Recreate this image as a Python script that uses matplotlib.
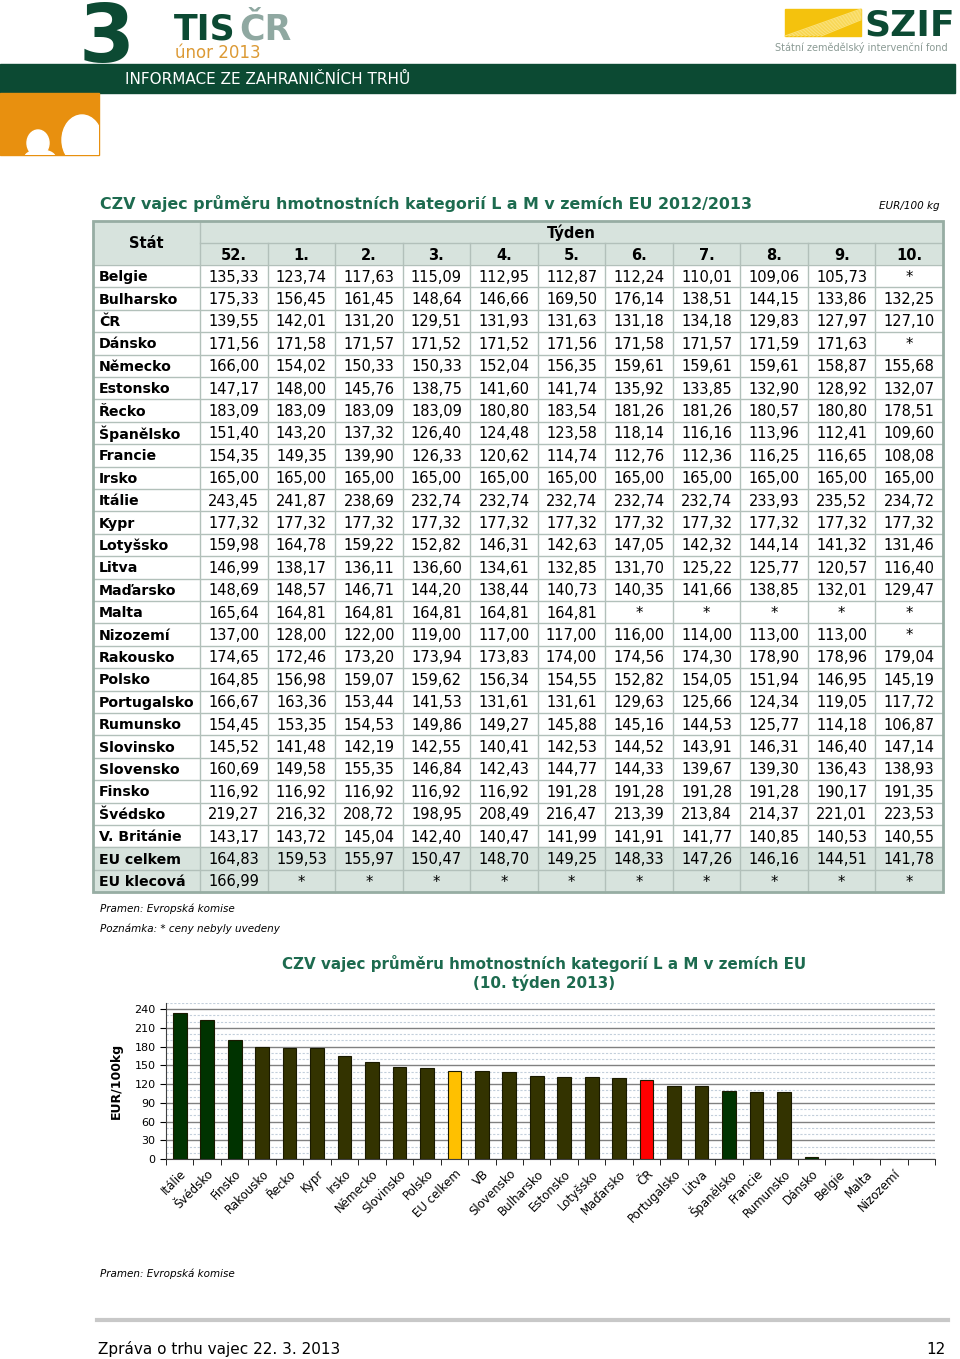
import matplotlib
matplotlib.use("Agg")
import matplotlib.pyplot as plt
from matplotlib.patches import Rectangle, Ellipse
import numpy as np

# table data (EUR/100 kg), None = not reported
weeks = ["52.", "1.", "2.", "3.", "4.", "5.", "6.", "7.", "8.", "9.", "10."]
table_countries = ["Belgie", "Bulharsko", "ČR", "Dánsko", "Německo", "Estonsko", "Řecko",
                   "Španělsko", "Francie", "Irsko", "Itálie", "Kypr", "Lotyšsko", "Litva",
                   "Maďarsko", "Malta", "Nizozemí", "Rakousko", "Polsko", "Portugalsko",
                   "Rumunsko", "Slovinsko", "Slovensko", "Finsko", "Švédsko", "V. Británie",
                   "EU celkem", "EU klecová"]
table_values = [
    [135.33, 123.74, 117.63, 115.09, 112.95, 112.87, 112.24, 110.01, 109.06, 105.73, None],
    [175.33, 156.45, 161.45, 148.64, 146.66, 169.50, 176.14, 138.51, 144.15, 133.86, 132.25],
    [139.55, 142.01, 131.20, 129.51, 131.93, 131.63, 131.18, 134.18, 129.83, 127.97, 127.10],
    [171.56, 171.58, 171.57, 171.52, 171.52, 171.56, 171.58, 171.57, 171.59, 171.63, None],
    [166.00, 154.02, 150.33, 150.33, 152.04, 156.35, 159.61, 159.61, 159.61, 158.87, 155.68],
    [147.17, 148.00, 145.76, 138.75, 141.60, 141.74, 135.92, 133.85, 132.90, 128.92, 132.07],
    [183.09, 183.09, 183.09, 183.09, 180.80, 183.54, 181.26, 181.26, 180.57, 180.80, 178.51],
    [151.40, 143.20, 137.32, 126.40, 124.48, 123.58, 118.14, 116.16, 113.96, 112.41, 109.60],
    [154.35, 149.35, 139.90, 126.33, 120.62, 114.74, 112.76, 112.36, 116.25, 116.65, 108.08],
    [165.00, 165.00, 165.00, 165.00, 165.00, 165.00, 165.00, 165.00, 165.00, 165.00, 165.00],
    [243.45, 241.87, 238.69, 232.74, 232.74, 232.74, 232.74, 232.74, 233.93, 235.52, 234.72],
    [177.32, 177.32, 177.32, 177.32, 177.32, 177.32, 177.32, 177.32, 177.32, 177.32, 177.32],
    [159.98, 164.78, 159.22, 152.82, 146.31, 142.63, 147.05, 142.32, 144.14, 141.32, 131.46],
    [146.99, 138.17, 136.11, 136.60, 134.61, 132.85, 131.70, 125.22, 125.77, 120.57, 116.40],
    [148.69, 148.57, 146.71, 144.20, 138.44, 140.73, 140.35, 141.66, 138.85, 132.01, 129.47],
    [165.64, 164.81, 164.81, 164.81, 164.81, 164.81, None, None, None, None, None],
    [137.00, 128.00, 122.00, 119.00, 117.00, 117.00, 116.00, 114.00, 113.00, 113.00, None],
    [174.65, 172.46, 173.20, 173.94, 173.83, 174.00, 174.56, 174.30, 178.90, 178.96, 179.04],
    [164.85, 156.98, 159.07, 159.62, 156.34, 154.55, 152.82, 154.05, 151.94, 146.95, 145.19],
    [166.67, 163.36, 153.44, 141.53, 131.61, 131.61, 129.63, 125.66, 124.34, 119.05, 117.72],
    [154.45, 153.35, 154.53, 149.86, 149.27, 145.88, 145.16, 144.53, 125.77, 114.18, 106.87],
    [145.52, 141.48, 142.19, 142.55, 140.41, 142.53, 144.52, 143.91, 146.31, 146.40, 147.14],
    [160.69, 149.58, 155.35, 146.84, 142.43, 144.77, 144.33, 139.67, 139.30, 136.43, 138.93],
    [116.92, 116.92, 116.92, 116.92, 116.92, 191.28, 191.28, 191.28, 191.28, 190.17, 191.35],
    [219.27, 216.32, 208.72, 198.95, 208.49, 216.47, 213.39, 213.84, 214.37, 221.01, 223.53],
    [143.17, 143.72, 145.04, 142.40, 140.47, 141.99, 141.91, 141.77, 140.85, 140.53, 140.55],
    [164.83, 159.53, 155.97, 150.47, 148.70, 149.25, 148.33, 147.26, 146.16, 144.51, 141.78],
    [166.99, None, None, None, None, None, None, None, None, None, None],
]

# chart data: week 10 2013, sorted
chart_labels = ["Itálie", "Švédsko", "Finsko", "Rakousko", "Řecko", "Kypr", "Irsko",
                "Německo", "Slovinsko", "Polsko", "EU celkem", "VB", "Slovensko",
                "Bulharsko", "Estonsko", "Lotyšsko", "Maďarsko", "ČR", "Portugalsko",
                "Litva", "Španělsko", "Francie", "Rumunsko", "Dánsko", "Belgie", "Malta",
                "Nizozemí"]
chart_values = [234.72, 223.53, 191.35, 179.04, 178.51, 177.32, 165.00, 155.68, 147.14,
                145.19, 141.78, 140.55, 138.93, 132.25, 132.07, 131.46, 129.47, 127.10,
                117.72, 116.40, 109.60, 108.08, 106.87, 3.0, 0, 0, 0]

W, H = 960, 1359
fig = plt.figure(figsize=(W / 100, H / 100), dpi=100)
page = fig.add_axes([0, 0, 1, 1])
page.set_xlim(0, W)
page.set_ylim(H, 0)
page.axis("off")

dgreen = "#0c4a33"
title_green = "#1d6b4f"

# ---- header ----
page.text(79, 62, "3", fontsize=58, fontweight="bold", color=dgreen, va="baseline", ha="left")
page.text(174, 39, "TIS", fontsize=25, fontweight="bold", color=dgreen, va="baseline")
page.text(239, 39, "ČR", fontsize=25, fontweight="bold", color="#8fa8a1", va="baseline")
page.text(175, 58, "únor 2013", fontsize=12, color="#dc9a35", va="baseline")
page.add_patch(Rectangle((0, 64), 955, 29, color=dgreen, zorder=1))
page.text(125, 84, "INFORMACE ZE ZAHRANIČNÍCH TRHŮ", fontsize=11, color="white", va="baseline", zorder=2)
block = Rectangle((0, 93), 99, 62, color="#e8900f", zorder=1)
page.add_patch(block)
for cx, cy, w, h in [(38, 143, 22, 26), (82, 140, 40, 50), (40, 157, 30, 14)]:
    e = Ellipse((cx, cy), w, h, color="white", zorder=2)
    page.add_patch(e)
    e.set_clip_path(block)

# SZIF logo
page.add_patch(Rectangle((785, 9), 76, 27, color="#f4c20d", zorder=1))
for k in range(10):
    page.plot([785 + k * 4, 861], [36, 9 + k * 1.2], color="#fbe27a", lw=0.8, zorder=2)
page.text(864, 36, "SZIF", fontsize=26, fontweight="bold", color=dgreen, va="baseline")
page.text(948, 51, "Státní zemědělský intervenční fond", fontsize=7, color="#8a9a94",
          ha="right", va="baseline")

# ---- table ----
page.text(100, 209, "CZV vajec průměru hmotnostních kategorií L a M v zemích EU 2012/2013",
          fontsize=11.4, fontweight="bold", color=title_green, va="baseline")
page.text(940, 209, "EUR/100 kg", fontsize=7.5, style="italic", ha="right", va="baseline")

tx0, tx1 = 93, 943
col0 = 200
colw = (tx1 - col0) / len(weeks)
ty0, ty_mid, ty_head = 221, 243, 265
rowh = 22.4
nrows = len(table_countries)
ty1 = ty_head + rowh * nrows
head_bg = "#d7e3dd"
line_c = "#b2c0ba"

page.add_patch(Rectangle((tx0, ty0), tx1 - tx0, ty_head - ty0, color=head_bg, zorder=1))
for i, name in enumerate(table_countries):
    y = ty_head + rowh * i
    bg = head_bg if name.startswith("EU") else "white"
    page.add_patch(Rectangle((tx0, y), tx1 - tx0, rowh, color=bg, zorder=1))
    page.text(99, y + rowh / 2 + 1, name, fontsize=10.2, fontweight="bold", va="center", zorder=3)
    for j, v in enumerate(table_values[i]):
        s = "*" if v is None else f"{v:.2f}".replace(".", ",")
        page.text(col0 + colw * (j + 0.5), y + rowh / 2 + 1, s, fontsize=10.5,
                  ha="center", va="center", zorder=3)
    page.plot([tx0, tx1], [y, y], color=line_c, lw=1, zorder=2)

page.text((tx0 + col0) / 2, ty_mid + 1, "Stát", fontsize=10.5, fontweight="bold", ha="center", va="center", zorder=3)
page.text((col0 + tx1) / 2, (ty0 + ty_mid) / 2 + 1, "Týden", fontsize=10.5, fontweight="bold",
          ha="center", va="center", zorder=3)
for j, wk in enumerate(weeks):
    page.text(col0 + colw * (j + 0.5), (ty_mid + ty_head) / 2 + 1, wk, fontsize=10.5,
              fontweight="bold", ha="center", va="center", zorder=3)
page.plot([col0, tx1], [ty_mid, ty_mid], color=line_c, lw=1, zorder=2)
page.plot([col0, col0], [ty0, ty1], color=line_c, lw=1, zorder=2)
for j in range(1, len(weeks)):
    x = col0 + colw * j
    page.plot([x, x], [ty_mid, ty1], color=line_c, lw=1, zorder=2)
page.add_patch(Rectangle((tx0, ty0), tx1 - tx0, ty1 - ty0, fill=False, ec="#97ada3", lw=2, zorder=4))

page.text(100, 912, "Pramen: Evropská komise", fontsize=7.5, style="italic", va="baseline")
page.text(100, 932, "Poznámka: * ceny nebyly uvedeny", fontsize=7.5, style="italic", va="baseline")

# ---- bar chart ----
page.text(544, 969, "CZV vajec průměru hmotnostních kategorií L a M v zemích EU",
          fontsize=10.9, fontweight="bold", color=title_green, ha="center", va="baseline")
page.text(544, 988, "(10. týden 2013)", fontsize=10.9, fontweight="bold", color=title_green,
          ha="center", va="baseline")

ax = fig.add_axes([166 / W, 1 - 1159 / H, (935 - 166) / W, (1159 - 1003) / H])
x = np.arange(len(chart_labels))
colors = []
for lab in chart_labels:
    if lab == "EU celkem":
        colors.append("#ffc000")
    elif lab == "ČR":
        colors.append("#ff0000")
    elif lab in ("Itálie", "Švédsko", "Finsko", "Španělsko", "Dánsko"):
        colors.append("#003300")
    else:
        colors.append("#333300")
ax.bar(x, chart_values, width=0.5, color=colors, edgecolor="#1a1a00", linewidth=0.8, zorder=3)
ax.set_xlim(-0.5, len(chart_labels) + 0.5)
ax.set_ylim(0, 250)
ax.set_yticks(np.arange(0, 241, 30))
ax.set_yticks(np.arange(10, 251, 10), minor=True)
ax.grid(axis="y", which="major", color="#808080", lw=1, zorder=1)
ax.grid(axis="y", which="minor", color="#c3cfdb", lw=0.8, ls=(0, (2, 1.5)), zorder=0)
ax.tick_params(axis="y", which="minor", length=0)
ax.tick_params(axis="y", which="major", labelsize=8, length=4, direction="out")
ax.set_xticks(x)
ax.set_xticklabels(chart_labels, rotation=45, ha="right", rotation_mode="anchor", fontsize=8.5)
ax.tick_params(axis="x", length=0, pad=6)
ax.set_xticks(np.arange(-0.5, len(chart_labels) + 1, 1), minor=True)
ax.tick_params(axis="x", which="minor", length=4, direction="out")
for s in ("top", "right"):
    ax.spines[s].set_visible(False)
ax.spines["left"].set_color("#404040")
ax.spines["bottom"].set_color("#404040")
ax.set_ylabel("EUR/100kg", fontsize=9, fontweight="bold", labelpad=8)

page.text(100, 1277, "Pramen: Evropská komise", fontsize=7.5, style="italic", va="baseline")

# ---- footer ----
page.plot([97, 948], [1320, 1320], color="#c8c8c8", lw=3)
page.text(98, 1354, "Zpráva o trhu vajec 22. 3. 2013", fontsize=11, va="baseline")
page.text(946, 1354, "12", fontsize=11, ha="right", va="baseline")

fig.savefig("out.png", dpi=100)
